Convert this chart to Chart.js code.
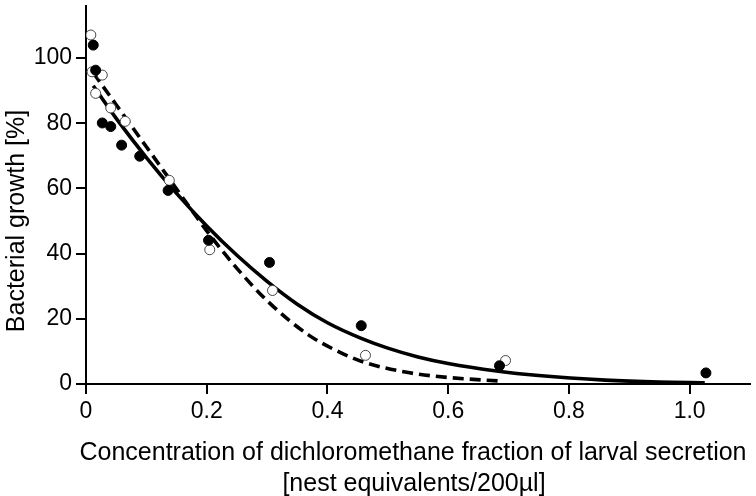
<!DOCTYPE html>
<html>
<head>
<meta charset="utf-8">
<script src="https://cdn.jsdelivr.net/npm/chart.js@4"></script>
<style>
html, body { margin: 0; padding: 0; background: #fff; }
</style>
</head>
<body>
<canvas id="Chart" width="756" height="496"></canvas>
<script>
// measured points (filled = series 1, open = series 2)
const filledX = [0.012, 0.016, 0.027, 0.041, 0.059, 0.089, 0.136, 0.203, 0.304, 0.456, 0.685, 1.027];
const filledY = [104, 96.3, 80.1, 79, 73.3, 69.9, 59.4, 44.1, 37.3, 17.9, 5.6, 3.4];
const openX = [0.008, 0.01, 0.016, 0.027, 0.041, 0.065, 0.138, 0.205, 0.309, 0.463, 0.695];
const openY = [107.1, 95.8, 89.2, 94.8, 84.7, 80.6, 62.5, 41.2, 28.7, 8.8, 7.2];

// fitted curves
const solidX = [0.012, 0.05, 0.1, 0.15, 0.2, 0.25, 0.3, 0.35, 0.4, 0.456, 0.5, 0.55, 0.6, 0.68, 0.75, 0.86, 0.95, 1.025];
const solidY = [91.5, 81.5, 69.5, 58.5, 48.5, 39.5, 31.5, 24.5, 18.8, 14, 11, 8.3, 6.3, 4, 2.6, 1.2, 0.6, 0.4];
const dashX = [0.012, 0.05, 0.1, 0.141, 0.171, 0.2, 0.25, 0.306, 0.369, 0.42, 0.462, 0.534, 0.6, 0.687];
const dashY = [95.5, 85.7, 72.8, 62.2, 54.4, 47, 35.5, 24.5, 15, 9.8, 6.6, 3.5, 2.0, 0.9];

// axes
const xTicks = [0, 0.2, 0.4, 0.6, 0.8, 1.0];
const xTickLabels = ['0', '0.2', '0.4', '0.6', '0.8', '1.0'];
const yTicks = [0, 20, 40, 60, 80, 100];
const xTitle = ['Concentration of dichloromethane fraction of larval secretion', '[nest equivalents/200\u00b5l]'];
const yTitle = 'Bacterial growth [%]';

const FONT = '"Liberation Sans", Arial, sans-serif';

function pts(xs, ys) {
    return xs.map((x, i) => ({x: x, y: ys[i]}));
}

//draw the axis titles
const axisTitles = {
    id: 'axisTitles',
    afterDraw(chart) {
        const ctx = chart.ctx;
        ctx.save();
        ctx.fillStyle = '#000';
        ctx.textAlign = 'center';
        ctx.textBaseline = 'alphabetic';
        ctx.font = '25px ' + FONT;
        ctx.fillText(xTitle[0], 413, 460);
        ctx.fillText(xTitle[1], 414, 491);
        ctx.translate(24, 221);
        ctx.rotate(-Math.PI / 2);
        ctx.fillText(yTitle, 0, 0);
        ctx.restore();
    }
};

const axisStyle = {
    grid: {display: true, drawOnChartArea: false, drawTicks: true, tickLength: 10, color: '#000', lineWidth: 2},
    border: {display: true, color: '#000', width: 2}
};

const ctx = document.getElementById('Chart').getContext('2d');
const myChart = new Chart(ctx, {
    type: 'scatter',
    data: {
        datasets: [
            {
                label: 'filled',
                data: pts(filledX, filledY),
                pointRadius: 5,
                pointBackgroundColor: '#000',
                pointBorderColor: '#000',
                pointBorderWidth: 1,
                showLine: false
            },
            {
                label: 'open',
                data: pts(openX, openY),
                pointRadius: 5,
                pointBackgroundColor: '#fff',
                pointBorderColor: '#444',
                pointBorderWidth: 1,
                showLine: false
            },
            {
                label: 'fit filled',
                data: pts(solidX, solidY),
                showLine: true,
                pointRadius: 0,
                borderColor: '#000',
                borderWidth: 3.6,
                cubicInterpolationMode: 'monotone'
            },
            {
                label: 'fit open',
                data: pts(dashX, dashY),
                showLine: true,
                pointRadius: 0,
                borderColor: '#000',
                borderWidth: 3.6,
                borderDash: [11, 6],
                cubicInterpolationMode: 'monotone'
            }
        ]
    },
    options: {
        responsive: false,
        animation: false,
        layout: {padding: {top: 3, right: 3, left: 0, bottom: 0}},
        plugins: {legend: {display: false}, tooltip: {enabled: false}},
        scales: {
            x: Object.assign({
                type: 'linear',
                min: 0,
                max: 1.1,
                afterBuildTicks: s => { s.ticks = xTicks.map(v => ({value: v})); },
                afterFit: s => { s.height = 112; s.paddingLeft = 0; s.paddingRight = 0; },
                ticks: {
                    callback: (v, i) => xTickLabels[i],
                    color: '#000',
                    font: {family: FONT, size: 23},
                    padding: 4,
                    maxRotation: 0,
                    autoSkip: false
                }
            }, axisStyle),
            y: Object.assign({
                type: 'linear',
                min: 0,
                max: 116,
                afterBuildTicks: s => { s.ticks = yTicks.map(v => ({value: v})); },
                afterFit: s => { s.width = 86; s.paddingTop = 0; s.paddingBottom = 0; },
                ticks: {
                    color: '#000',
                    font: {family: FONT, size: 23},
                    padding: 4
                }
            }, axisStyle)
        }
    },
    plugins: [axisTitles]
});
</script>
</body>
</html>
